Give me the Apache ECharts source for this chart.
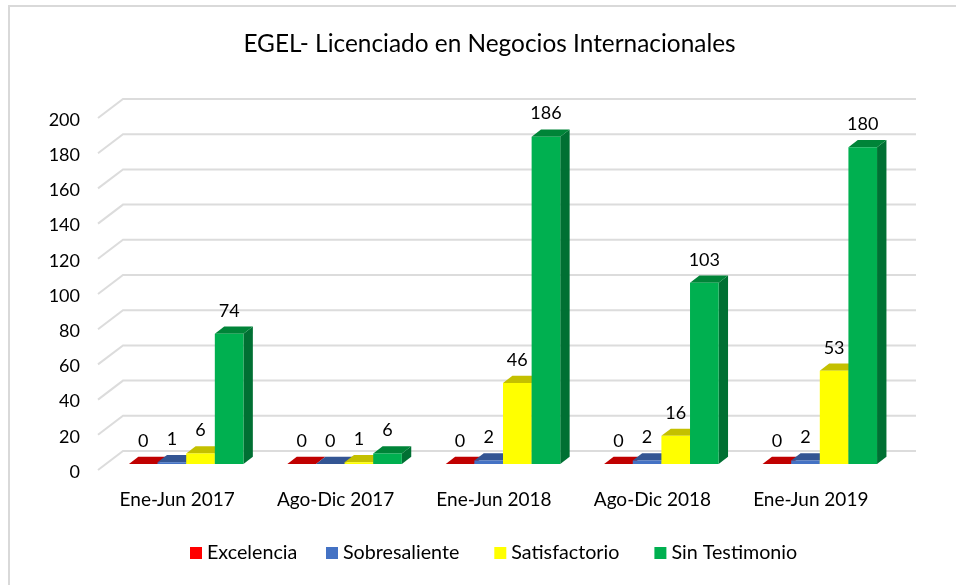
<!DOCTYPE html>
<html>
<head>
<meta charset="utf-8">
<style>html,body{margin:0;padding:0;background:#fff}#c{width:956px;height:585px}</style>
<script src="https://cdn.jsdelivr.net/npm/echarts@6/dist/echarts.min.js"></script>
</head>
<body>
<div id="c"></div>
<script>
var categories = ['Ene-Jun 2017', 'Ago-Dic 2017', 'Ene-Jun 2018', 'Ago-Dic 2018', 'Ene-Jun 2019'];
var excelencia = [0, 0, 0, 0, 0];
var sobresaliente = [1, 0, 2, 2, 2];
var satisfactorio = [6, 1, 46, 16, 53];
var sinTestimonio = [74, 6, 186, 103, 180];
var yTicks = [0, 20, 40, 60, 80, 100, 120, 140, 160, 180, 200];
var FONT = 'Lato';
var chart = echarts.init(document.getElementById('c'), null, {renderer: 'canvas'});

function bar(name, values, idx, front, top, side) {
  return {
    name: name, type: 'custom', coordinateSystem: 'cartesian2d',
    itemStyle: {color: front},
    encode: {x: 0, y: 1},
    data: values.map(function (v, i) { return [i, v]; }),
    renderItem: function (params, api) {
      var base = api.coord([api.value(0), 0]);
      var head = api.coord([api.value(0), api.value(1)]);
      var band = api.size([1, 0])[0];
      var w = band * 0.1807;
      var x = base[0] + 9 - 2 * w + idx * w;
      var y0 = base[1] - 8, y1 = head[1] - 8, dx = 9.4, dy = 7.2;
      var kids = [
        {type: 'polygon', shape: {points: [[x + w, y0], [x + w + dx, y0 - dy], [x + w + dx, y1 - dy], [x + w, y1]]}, style: {fill: side}},
        {type: 'polygon', shape: {points: [[x, y1], [x + dx, y1 - dy], [x + w + dx, y1 - dy], [x + w, y1]]}, style: {fill: top}},
        {type: 'rect', shape: {x: x, y: y1, width: w, height: y0 - y1}, style: {fill: front}},
        {type: 'text', style: {text: String(api.value(1)), x: x + w / 2, y: y1 - 23, align: 'center', verticalAlign: 'middle', font: '18px ' + FONT, fill: '#000'}}
      ];
      return {type: 'group', children: kids};
    }
  };
}

var gridSeries = {
  name: 'grid', type: 'custom', coordinateSystem: 'cartesian2d', silent: true, z: 0,
  encode: {x: 0, y: 1},
  data: yTicks.map(function (t) { return [0, t]; }),
  renderItem: function (params, api) {
    var p = api.coord([0, api.value(1)]);
    var s = params.coordSys;
    var y = p[1] - 2;
    return {type: 'polyline', shape: {points: [[s.x, y], [s.x + 25, y - 19], [s.x + s.width + 26, y - 19]]},
      style: {stroke: '#DCDCDC', lineWidth: 2, fill: null}};
  }
};

var legendText = {fontFamily: FONT, fontSize: 19.7, color: '#000'};

chart.setOption({
  animation: false,
  backgroundColor: '#fff',
  textStyle: {fontFamily: FONT},
  title: {text: 'EGEL- Licenciado en Negocios Internacionales', left: 484.5, textAlign: 'center', top: 27,
    textStyle: {fontFamily: FONT, fontSize: 24.4, fontWeight: 'normal', color: '#000'}},
  legend: [
    {data: ['Excelencia'], left: 185, top: 538, itemWidth: 12, itemHeight: 12, icon: 'rect', textStyle: legendText},
    {data: ['Sobresaliente', 'Satisfactorio', 'Sin Testimonio'], left: 321, top: 538, itemWidth: 12, itemHeight: 12, itemGap: 35, icon: 'rect', textStyle: legendText}
  ],
  graphic: [{type: 'polyline', silent: true, z: -1, shape: {points: [[9, 585], [9, 6], [956, 6]]}, style: {fill: null, stroke: '#D9D9D9', lineWidth: 2}}],
  grid: {left: 98, width: 792, top: 120, height: 352},
  xAxis: {type: 'category', data: categories, axisLine: {show: false}, axisTick: {show: false}, splitLine: {show: false},
    axisLabel: {fontFamily: FONT, fontSize: 19, color: '#000', margin: 18}},
  yAxis: {type: 'value', min: 0, max: 200, interval: 20, axisLine: {show: false}, axisTick: {show: false}, splitLine: {show: false},
    axisLabel: {fontFamily: FONT, fontSize: 18, color: '#000', margin: 18}},
  series: [gridSeries,
    bar('Excelencia', excelencia, 0, '#FF0000', '#C00000', '#A00000'),
    bar('Sobresaliente', sobresaliente, 1, '#4472C4', '#335593', '#2A4A80'),
    bar('Satisfactorio', satisfactorio, 2, '#FFFF00', '#C4C000', '#A0A000'),
    bar('Sin Testimonio', sinTestimonio, 3, '#00B050', '#008438', '#007033')]
});
</script>
</body>
</html>
